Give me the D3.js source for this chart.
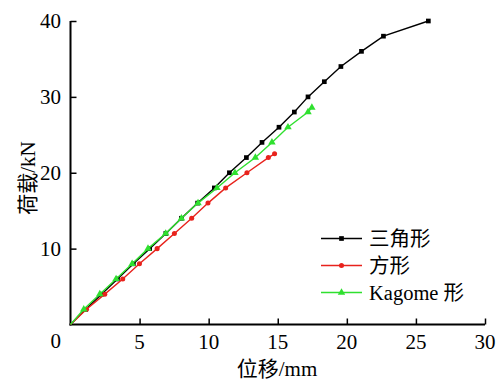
<!DOCTYPE html>
<html><head><meta charset="utf-8">
<script src="https://cdn.jsdelivr.net/npm/d3@7"></script>
<style>body{margin:0;background:#fff}</style>
</head><body>
<svg id="c" width="497" height="383"></svg>
<script>
const triX = [0,1.1,2.25,3.4,4.55,5.73,6.9,8.03,9.2,10.41,11.5,12.73,13.86,15.09,16.2,17.19,18.37,19.57,21.06,22.65,25.9];
const triY = [0,2,4,6,8,10,12,14,16,18,20,22,24,26,28,30,32,34,36,38,40];
const sqX = [0,1.16,2.48,3.78,4.99,6.27,7.52,8.77,9.95,11.23,12.77,14.32,14.77];
const sqY = [0,2,4,6,8,10,12,14,16,18,20,22,22.5];
const kgX = [0,0.96,2.12,3.3,4.46,5.61,6.89,8.03,9.23,10.6,11.9,13.38,14.58,15.74,17.19,17.47];
const kgY = [0,2,4,6,8,10,12,14,16,18,20,22,24,26,28,28.6];
const seriesNames = ["三角形","方形","Kagome 形"];
const xTicks = [5,10,15,20,25,30];
const yTicks = [10,20,30,40];

const series = [
  {name:seriesNames[0], xs:triX, ys:triY, color:"#000000", sym:d3.symbolSquare, size:22},
  {name:seriesNames[1], xs:sqX, ys:sqY, color:"#e8221c", sym:d3.symbolCircle, size:20},
  {name:seriesNames[2], xs:kgX, ys:kgY, color:"#2fe02f", sym:d3.symbolTriangle, size:24}
];

const svg = d3.select("#c");
const x = d3.scaleLinear().domain([0,30]).range([70.5,485]);
const y = d3.scaleLinear().domain([0,40]).range([324.5,21]);
const font = "'Liberation Serif','Times New Roman','Noto Sans CJK SC',serif";

// axes
const xAxis = svg.append("g").attr("transform","translate(0,324.5)")
  .call(d3.axisBottom(x).tickValues(xTicks).tickSizeInner(-6).tickSizeOuter(0).tickFormat(""));
const yAxis = svg.append("g").attr("transform","translate(70.5,0)")
  .call(d3.axisLeft(y).tickValues(yTicks).tickSizeInner(-6).tickSizeOuter(0).tickFormat(""));
[xAxis,yAxis].forEach(a=>{
  a.select(".domain").attr("stroke","#000").attr("stroke-width",2);
  a.selectAll(".tick line").attr("stroke","#000").attr("stroke-width",1.5);
});
yAxis.select(".domain").attr("d","M0,"+y(40)+"V"+(y(0)+1));
xAxis.select(".domain").attr("d","M"+(x(0)-1)+",0H"+x(30));

// tick labels
svg.append("g").selectAll("text").data(xTicks).join("text")
  .attr("x",d=>x(d)).attr("y",349).attr("text-anchor","middle")
  .attr("font-family",font).attr("font-size",21).text(d=>d);
svg.append("g").selectAll("text").data(yTicks).join("text")
  .attr("x",61).attr("y",d=>y(d)+7).attr("text-anchor","end")
  .attr("font-family",font).attr("font-size",21).text(d=>d);
svg.append("text").attr("x",61).attr("y",348).attr("text-anchor","end")
  .attr("font-family",font).attr("font-size",21).text("0");

// axis titles
svg.append("text").attr("x",277).attr("y",376).attr("text-anchor","middle")
  .attr("font-family",font).attr("font-size",21).text("位移/mm");
svg.append("text").attr("transform","translate(35,178) rotate(-90)").attr("text-anchor","middle")
  .attr("font-family",font).attr("font-size",21).text("荷载/kN");

// series
const line = d3.line().x(d=>x(d[0])).y(d=>y(d[1]));
series.forEach(s=>{
  const pts = s.xs.map((v,i)=>[v,s.ys[i]]);
  svg.append("path").datum(pts).attr("d",line).attr("fill","none")
    .attr("stroke",s.color).attr("stroke-width",1.4);
  svg.append("g").selectAll("path").data(pts.slice(1)).join("path")
    .attr("transform",d=>`translate(${x(d[0])},${y(d[1])})`)
    .attr("d",d3.symbol().type(s.sym).size(s.size)).attr("fill",s.color);
});

// legend
const lg = svg.append("g");
series.forEach((s,i)=>{
  const yy = 238.5 + i*27;
  lg.append("line").attr("x1",321).attr("x2",362).attr("y1",yy).attr("y2",yy)
    .attr("stroke",s.color).attr("stroke-width",1.4);
  lg.append("path").attr("transform",`translate(341.5,${yy})`)
    .attr("d",d3.symbol().type(s.sym).size(s.size)).attr("fill",s.color);
  lg.append("text").attr("x",369).attr("y",yy+7).attr("font-family",font)
    .attr("font-size",20.5).text(s.name);
});
</script>
</body></html>
